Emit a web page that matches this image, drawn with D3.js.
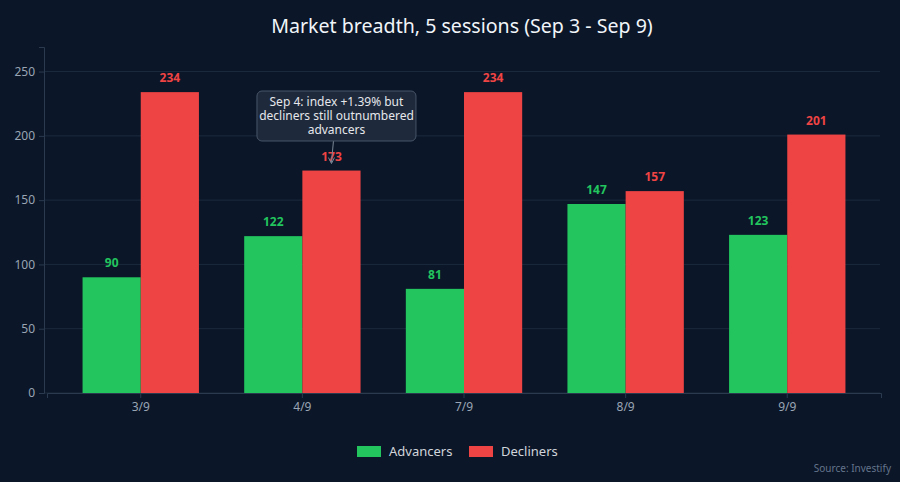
<!DOCTYPE html>
<html>
<head>
<meta charset="utf-8">
<script src="https://cdn.jsdelivr.net/npm/d3@7"></script>
<style>
  body { margin: 0; background: #0b1628; }
  text { font-family: "Noto Sans", "Open Sans", sans-serif; }
</style>
</head>
<body>
<div id="chart"></div>
<script>
// data
var sessions = ["3/9", "4/9", "7/9", "8/9", "9/9"];
var advancers = [90, 122, 81, 147, 123];
var decliners = [234, 173, 234, 157, 201];
var seriesNames = ["Advancers", "Decliners"];
var yTicks = [0, 50, 100, 150, 200, 250];

var W = 900, H = 482;
var margin = {top: 47, right: 20, bottom: 89, left: 44},
  width = W - margin.left - margin.right,
  height = H - margin.top - margin.bottom;

var green = "#22c55e", red = "#ef4444";

var svg = d3.select("#chart")
.append("svg")
  .attr("width", W)
  .attr("height", H)
  .style("background", "#0b1628");

// title centred over the plot area
svg.append("text")
  .attr("x", margin.left + width / 2)
  .attr("y", 33)
  .attr("text-anchor", "middle")
  .attr("font-size", "19.6px")
  .attr("fill", "#f1f5f9")
  .text("Market breadth, 5 sessions (Sep 3 - Sep 9)");

var g = svg.append("g")
  .attr("transform", "translate(" + margin.left + "," + margin.top + ")");

var x = d3.scaleBand()
  .domain(sessions)
  .range([3, width + 1])
  .paddingInner(0.28)
  .paddingOuter(0.22);

var xs = d3.scaleBand()
  .domain(seriesNames)
  .range([0, x.bandwidth()]);

var y = d3.scaleLinear()
  .domain([0, 234 * 1.15])
  .range([height, 0]);

// grid
g.selectAll(".grid")
  .data(yTicks)
  .enter()
  .append("line")
    .attr("x1", 0)
    .attr("x2", width)
    .attr("y1", function(d){ return y(d); })
    .attr("y2", function(d){ return y(d); })
    .attr("stroke", "#1c2a3d")
    .attr("stroke-width", 1);

// y axis
var yAxis = g.append("g")
  .call(d3.axisLeft(y).tickValues(yTicks).tickSize(5).tickPadding(4));
yAxis.select(".domain").attr("stroke", "#2b3a4f");
yAxis.selectAll(".tick line").attr("stroke", "#2b3a4f");
yAxis.selectAll("text").attr("fill", "#9aa5b4").attr("font-size", "12px");

// x axis
var xAxis = g.append("g")
  .attr("transform", "translate(0," + height + ")")
  .call(d3.axisBottom(x).tickSize(5).tickPadding(4));
xAxis.select(".domain").attr("stroke", "#2b3a4f");
xAxis.selectAll(".tick line").attr("stroke", "#2b3a4f");
xAxis.selectAll("text").attr("fill", "#9aa5b4").attr("font-size", "12px");

var rows = sessions.map(function(s, i){
  return {session: s, values: [
    {name: "Advancers", value: advancers[i], color: green},
    {name: "Decliners", value: decliners[i], color: red}
  ]};
});

var groups = g.selectAll(".grp")
  .data(rows)
  .enter()
  .append("g")
    .attr("transform", function(d){ return "translate(" + x(d.session) + ",0)"; });

groups.selectAll("rect")
  .data(function(d){ return d.values; })
  .enter()
  .append("rect")
    .attr("x", function(d){ return xs(d.name); })
    .attr("y", function(d){ return y(d.value); })
    .attr("width", xs.bandwidth())
    .attr("height", function(d){ return height - y(d.value); })
    .attr("fill", function(d){ return d.color; });

groups.selectAll(".lbl")
  .data(function(d){ return d.values; })
  .enter()
  .append("text")
    .attr("x", function(d){ return xs(d.name) + xs.bandwidth() / 2; })
    .attr("y", function(d){ return y(d.value) - 10; })
    .attr("text-anchor", "middle")
    .attr("font-size", "12px")
    .attr("font-weight", "bold")
    .attr("fill", function(d){ return d.color; })
    .text(function(d){ return d.value; });

// annotation for Sep 4
var ax = x("4/9") + xs("Decliners") + xs.bandwidth() / 2;
var boxCx = ax + 5, boxTop = 91 - margin.top, boxW = 159, boxH = 50;
g.append("line")
  .attr("x1", ax + 2)
  .attr("y1", boxTop + boxH)
  .attr("x2", ax)
  .attr("y2", y(173) - 8)
  .attr("stroke", "#7b8796")
  .attr("stroke-width", 1);
g.append("path")
  .attr("d", "M" + (ax - 3) + "," + (y(173) - 13) + " L" + ax + "," + (y(173) - 7) + " L" + (ax + 3) + "," + (y(173) - 13))
  .attr("fill", "none")
  .attr("stroke", "#7b8796");
g.append("rect")
  .attr("x", boxCx - boxW / 2)
  .attr("y", boxTop)
  .attr("width", boxW)
  .attr("height", boxH)
  .attr("rx", 5)
  .attr("fill", "#1e293b")
  .attr("stroke", "#475569")
  .attr("stroke-width", 1);
var note = ["Sep 4: index +1.39% but", "decliners still outnumbered", "advancers"];
g.append("text")
  .attr("text-anchor", "middle")
  .attr("font-size", "12px")
  .attr("fill", "#e5e7eb")
  .selectAll("tspan")
  .data(note)
  .enter()
  .append("tspan")
    .attr("x", boxCx)
    .attr("y", function(d, i){ return boxTop + 15 + i * 13.8; })
    .text(function(d){ return d; });

// legend
var legend = svg.append("g").attr("transform", "translate(357,446)");
var legX = [0, 112];
legend.selectAll("rect")
  .data(seriesNames)
  .enter()
  .append("rect")
    .attr("x", function(d, i){ return legX[i]; })
    .attr("y", 0)
    .attr("width", 24)
    .attr("height", 11)
    .attr("fill", function(d, i){ return i ? red : green; });
legend.selectAll("text")
  .data(seriesNames)
  .enter()
  .append("text")
    .attr("x", function(d, i){ return legX[i] + 32; })
    .attr("y", 10)
    .attr("font-size", "13px")
    .attr("fill", "#d1d5db")
    .text(function(d){ return d; });

svg.append("text")
  .attr("x", 891)
  .attr("y", 472)
  .attr("text-anchor", "end")
  .attr("font-size", "10px")
  .attr("fill", "#64748b")
  .text("Source: Investify");
</script>
</body>
</html>
